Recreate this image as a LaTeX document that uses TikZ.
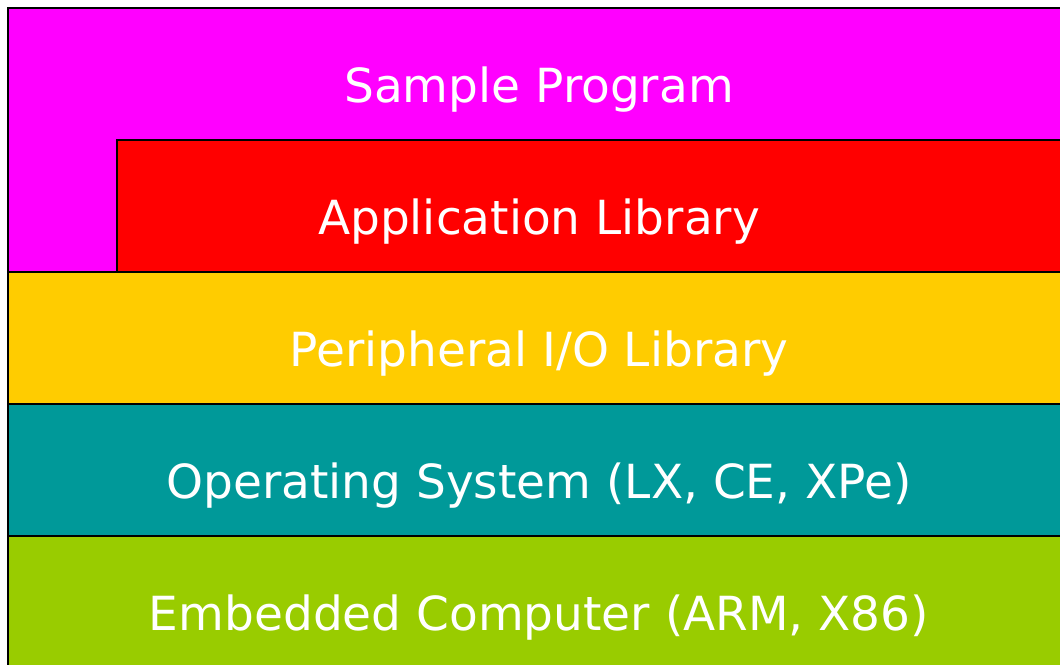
\documentclass[tikz,border=0pt]{standalone}
\usepackage{fontspec}
\setmainfont{DejaVu Sans}
\definecolor{cmag}{HTML}{FF00FF}
\definecolor{cred}{HTML}{FF0000}
\definecolor{cyel}{HTML}{FFCC00}
\definecolor{cteal}{HTML}{009999}
\definecolor{cgreen}{HTML}{99CC00}
\begin{document}
\begin{tikzpicture}[x=1pt,y=-1pt,
  layer/.style={draw=black,line width=2.2pt},
  lbl/.style={anchor=base,text=white,font=\fontsize{47}{50}\selectfont,inner sep=0pt}]
\useasboundingbox (0,0) rectangle (1060,664);
\clip (0,0) rectangle (1060,664);
\fill[white] (0,0) rectangle (1060,664);
\draw[layer,fill=cmag] (8,8) rectangle (1070,272);
\draw[layer,fill=cred] (117,140) rectangle (1070,272);
\draw[layer,fill=cyel] (8,272) rectangle (1070,404);
\draw[layer,fill=cteal] (8,404) rectangle (1070,536);
\draw[layer,fill=cgreen] (8,536) rectangle (1070,670);
\node[lbl] (sp) at (539,102) {Sample Program};
\node[lbl] (al) at (539,234) {Application Library};
\node[lbl] (pio) at (539,366) {Peripheral I/O Library};
\node[lbl] (os) at (539,498) {Operating System (LX, CE, XPe)};
\node[lbl] (ec) at (539,630) {Embedded Computer (ARM, X86)};
\end{tikzpicture}
\end{document}
